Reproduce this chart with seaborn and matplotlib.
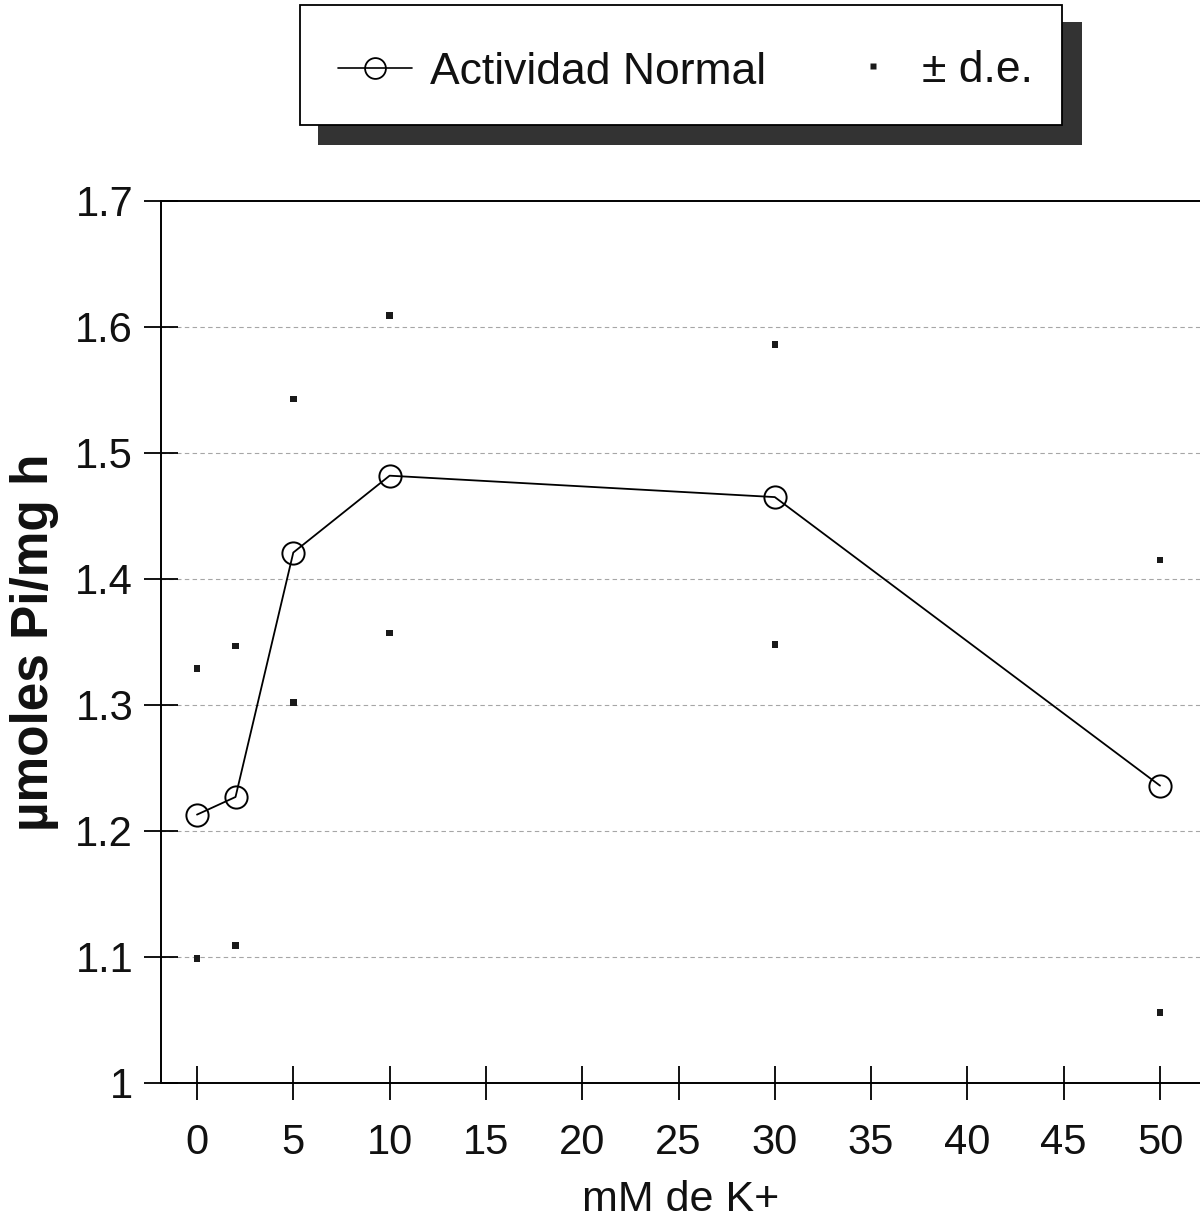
import numpy as np
import pandas as pd
import matplotlib
matplotlib.use("Agg")
import matplotlib.pyplot as plt
import seaborn as sns
from matplotlib.patches import Rectangle
from matplotlib.lines import Line2D

# ---- data ----
conc = [0, 2, 5, 10, 30, 50]
actividad = [1.213, 1.227, 1.421, 1.482, 1.465, 1.236]
de_upper = [1.329, 1.347, 1.543, 1.609, 1.586, 1.415]
de_lower = [1.099, 1.109, 1.302, 1.357, 1.348, 1.056]
xticks = [0, 5, 10, 15, 20, 25, 30, 35, 40, 45, 50]
yticks = [1.0, 1.1, 1.2, 1.3, 1.4, 1.5, 1.6, 1.7]

df = pd.DataFrame({"conc": conc, "act": actividad})
df_de = pd.DataFrame({"conc": conc + conc, "val": de_upper + de_lower})

sns.set_theme(style="white")
plt.rcParams["font.family"] = ["Liberation Sans", "DejaVu Sans"]

W, H = 1200, 1218
fig = plt.figure(figsize=(W / 100, H / 100), dpi=100)
ax = fig.add_axes([161 / W, 1 - 1083 / H, (W - 161) / W, (1083 - 201) / H])

for yv in yticks[1:-1]:
    ax.axhline(yv, color="0.65", lw=0.8, ls=(0, (4, 3)), zorder=0)

sns.lineplot(data=df, x="conc", y="act", ax=ax, color="black", lw=1.3,
             marker="o", markersize=16, markerfacecolor="none",
             markeredgecolor="black", markeredgewidth=1.4, zorder=3)
sns.scatterplot(data=df_de, x="conc", y="val", ax=ax, marker="s", s=22,
                color="#1a1a1a", edgecolor="none", zorder=3)

x0 = (161 - 197) / 19.26
x1 = (W - 197) / 19.26
ax.set_xlim(x0, x1)
ax.set_ylim(1.0, 1.7)
ax.set_xticks(xticks)
ax.set_yticks(yticks)
ax.set_yticklabels(["%g" % v for v in yticks])
ax.tick_params(axis="both", bottom=True, left=True, direction="inout",
               length=24, width=1.3, color="black", labelsize=30,
               labelcolor="#111111")
ax.tick_params(axis="x", pad=17)
ax.tick_params(axis="y", pad=8)

for side in ["left", "bottom", "top"]:
    ax.spines[side].set_visible(True)
    ax.spines[side].set_color("black")
    ax.spines[side].set_linewidth(1.4)
ax.spines["right"].set_visible(False)

ax.set_xlabel("mM de K+", fontsize=31, labelpad=12, color="#111111")
ax.set_ylabel("µmoles Pi/mg h", fontsize=37, fontweight="bold",
              labelpad=12, color="#111111")

# ---- legend box with shadow ----
def fx(px):
    return px / W

def fy(py):
    return 1 - py / H

shadow = Rectangle((fx(318), fy(145)), fx(1082) - fx(318), fy(22) - fy(145),
                   transform=fig.transFigure, facecolor="#333333",
                   edgecolor="none", zorder=1)
box = Rectangle((fx(300), fy(125)), fx(1062) - fx(300), fy(5) - fy(125),
                transform=fig.transFigure, facecolor="white",
                edgecolor="black", lw=1.3, zorder=2)
fig.patches.extend([shadow, box])

fs = 32
em = fs * 100 / 72.0
h1 = Line2D([], [], color="black", lw=1.2, marker="o", markersize=15,
            markerfacecolor="none", markeredgecolor="black", markeredgewidth=1.3)
h2 = Line2D([], [], color="none", marker="s", markersize=5,
            markerfacecolor="#1a1a1a", markeredgecolor="none")
leg1 = fig.legend([h1], ["Actividad Normal"], loc="center left",
                  bbox_to_anchor=(fx(338), fy(72)), frameon=False,
                  fontsize=fs, borderpad=0, borderaxespad=0,
                  handlelength=74 / em, handletextpad=18 / em)
leg2 = fig.legend([h2], ["± d.e."], loc="center left",
                  bbox_to_anchor=(fx(853), fy(70)), frameon=False,
                  fontsize=fs, borderpad=0, borderaxespad=0,
                  handlelength=40 / em, handletextpad=29 / em)
for leg in (leg1, leg2):
    leg.set_zorder(5)
    for t in leg.get_texts():
        t.set_color("#111111")

fig.savefig("out.png", dpi=100, facecolor="white")
